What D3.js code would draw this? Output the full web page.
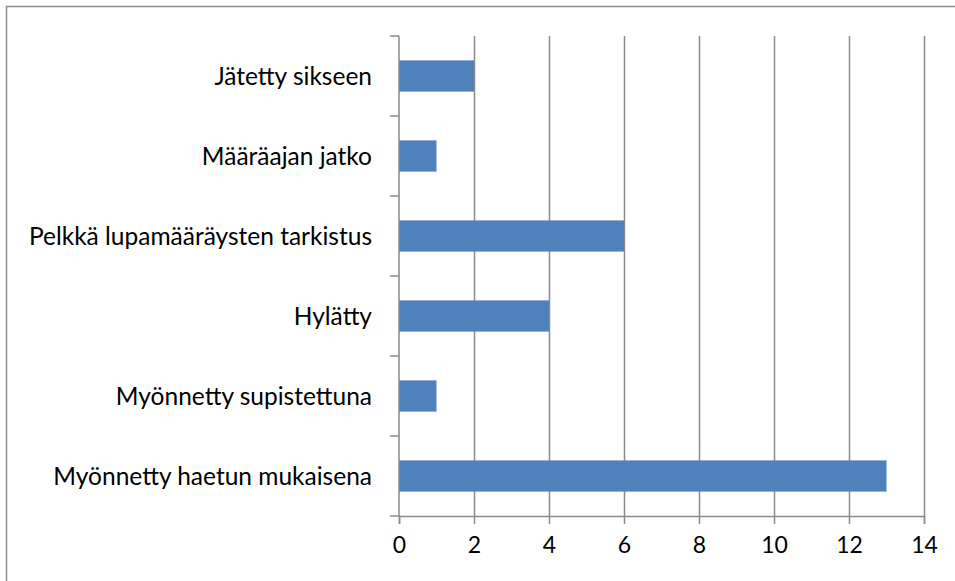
<!DOCTYPE html>
<html>
<head>
<meta charset="utf-8">
<script src="https://cdn.jsdelivr.net/npm/d3@7"></script>
<style>
  body { margin: 0; background: #fff; }
  svg { display: block; }
  text { font-family: Lato, "Open Sans", sans-serif; fill: #000; }
</style>
</head>
<body>
<svg id="chart" width="955" height="581"></svg>
<script>
// Categories top to bottom and their counts
var categories = ["Jätetty sikseen", "Määräajan jatko", "Pelkkä lupamääräysten tarkistus",
                  "Hylätty", "Myönnetty supistettuna", "Myönnetty haetun mukaisena"];
var values = [2, 1, 6, 4, 1, 13];
var xTicks = [0, 2, 4, 6, 8, 10, 12, 14];

var margin = {top: 36, right: 31, bottom: 65, left: 399};
var width = 955 - margin.left - margin.right;
var height = 581 - margin.top - margin.bottom;

var svg = d3.select("#chart");

// outer frame (only top and left edges fall inside the picture)
svg.append("rect")
    .attr("x", 6.5).attr("y", 6.5)
    .attr("width", 1000).attr("height", 1000)
    .attr("fill", "none")
    .attr("stroke", "#8c8c8c")
    .attr("stroke-width", 1.5);

var g = svg.append("g")
    .attr("transform", "translate(" + margin.left + "," + margin.top + ")");

var x = d3.scaleLinear().domain([0, 14]).range([0, width]);
var y = d3.scaleBand().domain(categories).range([0, height]).paddingInner(0.61).paddingOuter(0.305);
var yEdges = d3.scaleLinear().domain([0, categories.length]).range([0, height]);

// vertical gridlines
g.selectAll("line.grid")
    .data(xTicks.slice(1))
    .enter().append("line")
    .attr("class", "grid")
    .attr("x1", d => Math.round(x(d)) + 0.5)
    .attr("x2", d => Math.round(x(d)) + 0.5)
    .attr("y1", 0)
    .attr("y2", height)
    .attr("stroke", "#8a8a8a")
    .attr("stroke-width", 1.5);

// bars
g.selectAll("rect.bar")
    .data(values)
    .enter().append("rect")
    .attr("class", "bar")
    .attr("x", 0)
    .attr("y", (d, i) => y(categories[i]))
    .attr("width", d => x(d))
    .attr("height", y.bandwidth())
    .attr("fill", "#4f81bd");

// x axis
var xAxis = g.append("g")
    .attr("transform", "translate(0," + height + ")")
    .call(d3.axisBottom(x).tickValues(xTicks).tickSize(8).tickPadding(13).tickFormat(d3.format("d")));
xAxis.selectAll("path, line").attr("stroke", "#8a8a8a").attr("stroke-width", 1.5);
xAxis.selectAll("text").style("font-size", "23px").style("font-family", "Lato, sans-serif").attr("fill", "#000");

// y axis line and ticks at band edges
var yAxis = g.append("g");
yAxis.append("line")
    .attr("x1", 0).attr("x2", 0)
    .attr("y1", 0).attr("y2", height)
    .attr("stroke", "#8a8a8a").attr("stroke-width", 1.5);
yAxis.selectAll("line.tick")
    .data(d3.range(categories.length + 1))
    .enter().append("line")
    .attr("class", "tick")
    .attr("x1", -9).attr("x2", 0)
    .attr("y1", d => yEdges(d)).attr("y2", d => yEdges(d))
    .attr("stroke", "#8a8a8a").attr("stroke-width", 1.5);

// category labels
g.selectAll("text.cat")
    .data(categories)
    .enter().append("text")
    .attr("class", "cat")
    .attr("x", -27)
    .attr("y", d => y(d) + y.bandwidth() / 2)
    .attr("dy", "0.35em")
    .attr("text-anchor", "end")
    .style("font-size", "24.5px")
    .text(d => d);
</script>
</body>
</html>
